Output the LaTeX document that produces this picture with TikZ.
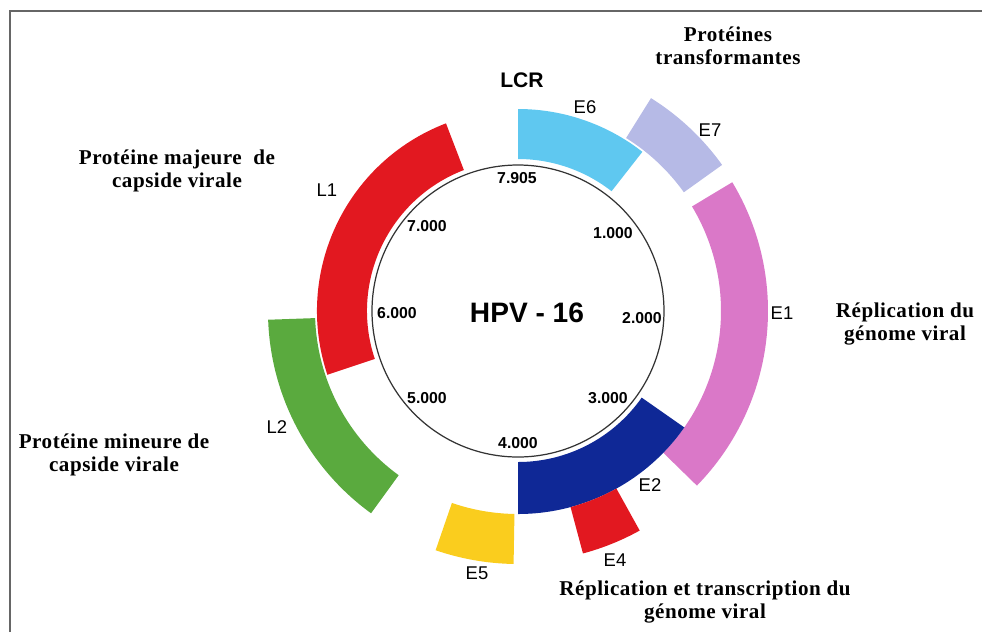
\documentclass[tikz,border=0pt]{standalone}
\usepackage{fontspec}
\setmainfont{Liberation Serif}
\setsansfont{Liberation Sans}
\usetikzlibrary{positioning}
\definecolor{lcrblue}{RGB}{95,200,240}
\definecolor{lavender}{RGB}{182,186,230}
\definecolor{pinkE}{RGB}{218,120,200}
\definecolor{navyE}{RGB}{15,40,150}
\definecolor{redE}{RGB}{226,24,32}
\definecolor{yellowE}{RGB}{250,205,30}
\definecolor{greenL}{RGB}{90,170,62}

\begin{document}
\begin{tikzpicture}[scale=0.02,
    gene/.style={font=\sffamily\fontsize{10.5}{12}\selectfont},
    tick/.style={font=\sffamily\bfseries\fontsize{9}{10}\selectfont},
    role/.style={font=\bfseries\fontsize{12}{13}\selectfont\addfontfeature{LetterSpace=2.5},align=center}]
  \useasboundingbox (-518,-321) rectangle (464,311);
  % frame
  \draw[black!60, line width=1.1pt] (-508,-321) -- (-508,300) -- (464,300);
  % genome segments
  \foreach \a/\b/\ri/\ro/\col in {90/52/152/202/lcrblue, 58/35.6/204/251/lavender,
      31/-44.3/203/250/pinkE, -35/-90/151/203/navyE, -61/-75/203/251/redE,
      -91/-109/203/253/yellowE, 182/234/203/250/greenL, 111/198.5/151/201/redE} {
    \fill[\col] (\a:\ri) arc[start angle=\a, end angle=\b, radius=\ri]
      -- (\b:\ro) arc[start angle=\b, end angle=\a, radius=\ro] -- cycle;
  }
  % genome circle
  \draw[black!80, line width=0.7pt] (0,0) circle[radius=146];
  \node[font=\sffamily\bfseries\fontsize{16}{18}\selectfont] (hpv) at (9,-2) {HPV - 16};
  % positions
  \node[tick] (p0) at (-1,133) {7.905};
  \node[tick] (p1) at (95,78) {1.000};
  \node[tick] (p2) at (124,-7) {2.000};
  \node[tick] (p3) at (90,-87) {3.000};
  \node[tick] (p4) at (0,-132) {4.000};
  \node[tick] (p5) at (-91,-87) {5.000};
  \node[tick] (p6) at (-121,-2) {6.000};
  \node[tick] (p7) at (-91,85) {7.000};
  % gene names
  \node[font=\sffamily\bfseries\fontsize{12}{14}\selectfont] (lcr) at (4,231) {LCR};
  \node[gene] (e6) at (67,204) {E6};
  \node[gene] (e7) at (192,181) {E7};
  \node[gene] (e1) at (264,-2) {E1};
  \node[gene] (e2) at (132,-174) {E2};
  \node[gene] (e4) at (97,-249) {E4};
  \node[gene] (e5) at (-41,-262) {E5};
  \node[gene] (l1) at (-191,121) {L1};
  \node[gene] (l2) at (-241,-116) {L2};
  % functions
  \node[role] (transf) at (210,265) {Protéines\\transformantes};
  \node[role] (majeure) at (-341,140) {Protéine majeure~~de\\capside virale};
  \node[role] (repli) at (387,-13) {Réplication du\\génome viral};
  \node[role] (mineure) at (-404,-144) {Protéine mineure de\\capside virale};
  \node[role] (transc) at (187,-291) {Réplication et transcription du\\génome viral};
\end{tikzpicture}
\end{document}
